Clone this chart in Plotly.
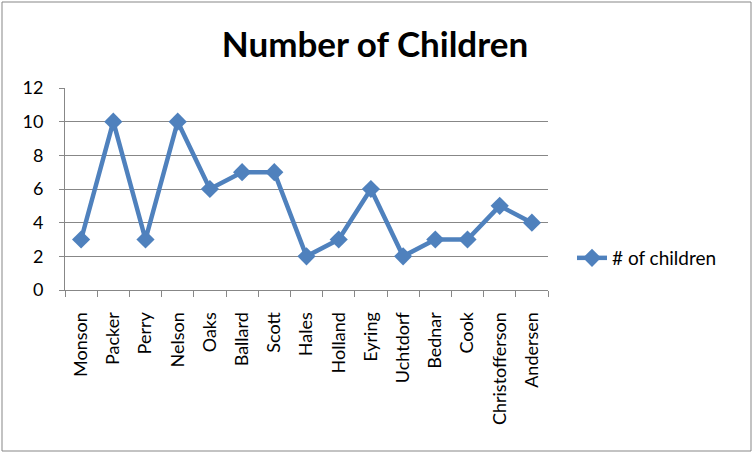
import plotly.graph_objects as go

names = ["Monson", "Packer", "Perry", "Nelson", "Oaks", "Ballard", "Scott", "Hales",
         "Holland", "Eyring", "Uchtdorf", "Bednar", "Cook", "Christofferson", "Andersen"]
children = [3, 10, 3, 10, 6, 7, 7, 2, 3, 6, 2, 3, 3, 5, 4]

blue = "#4F81BD"
grey = "#878787"
font = "Lato, 'Open Sans', sans-serif"

fig = go.Figure()
fig.add_trace(go.Scatter(
    x=names, y=children, mode="lines+markers", name="# of children",
    line=dict(color=blue, width=4.5),
    marker=dict(symbol="diamond", size=14, color=blue),
))

W, H = 754, 453
L, R, T, B = 65, 548, 88, 290
pw, ph = R - L, B - T


def px(x):
    return (x - L) / pw


def py(y):
    return (B - y) / ph


fig.update_layout(
    width=W, height=H,
    margin=dict(l=L, r=W - R, t=T, b=H - B),
    paper_bgcolor="white", plot_bgcolor="white",
    font=dict(family=font, size=18, color="black"),
    title=dict(text="<b>Number of Children</b>", x=px(375), xref="paper", xanchor="center",
               y=1 - 45 / H, yanchor="middle", font=dict(size=35)),
    showlegend=True,
    legend=dict(x=px(572), y=py(258), xanchor="left", yanchor="middle",
                font=dict(size=19), bgcolor="rgba(0,0,0,0)"),
    xaxis=dict(type="category", showline=True, linecolor=grey, linewidth=1,
               ticks="outside", tickson="boundaries", ticklen=6, tickcolor=grey,
               tickangle=-90, showgrid=False, range=[-0.5, len(names) - 0.5],
               tickfont=dict(size=18), ticklabelstandoff=14),
    yaxis=dict(range=[0, 12], dtick=2, showline=True, linecolor=grey, linewidth=1,
               ticks="outside", ticklen=5, tickcolor=grey, showgrid=True,
               gridcolor=grey, gridwidth=1, zeroline=False, tickfont=dict(size=18),
               ticklabelstandoff=12),
    shapes=[dict(type="rect", xref="paper", yref="paper",
                 x0=px(2), x1=px(751), y0=py(451), y1=py(2),
                 line=dict(color=grey, width=1), layer="below")],
)

fig.write_html("out.html", config={"displayModeBar": False},
               post_script="document.body.style.margin='0';")
